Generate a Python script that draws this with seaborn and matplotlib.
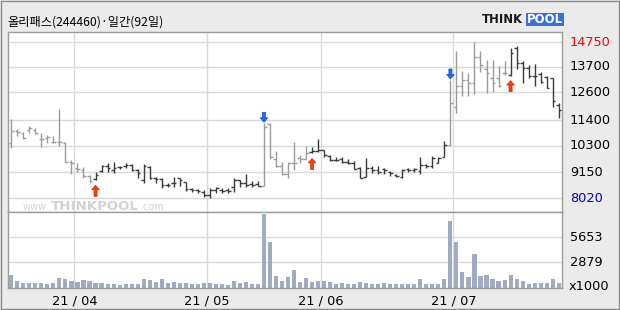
import numpy as np
import pandas as pd
import matplotlib
matplotlib.use("Agg")
import matplotlib.pyplot as plt
import matplotlib.transforms as mtrans
from matplotlib.patches import Rectangle
import seaborn as sns

# ---------------- data ----------------
title = "올리패스(244460)·일간(92일)"
month_labels = ["21/04", "21/05", "21/06", "21/07"]
days_per_month = [11, 22, 19, 22, 18]          # Mar(part), Apr, May, Jun, Jul
price_ticks = [14750, 13700, 12600, 11400, 10300, 9150, 8020]
vol_ticks = [5653, 2879]

opens = [10400, 10930, 10830, 10970, 10970, 10600, 10610, 10460, 10460, 10420,
         9600, 9320, 9250, 8990, 8870, 9200, 9430, 9250, 9380, 9420,
         9460, 9250, 8810, 9390, 8880, 8840, 8600, 8670, 8880, 8720,
         8410, 8380, 8300, 8170, 8380, 8380, 8380, 8500, 8810, 8670,
         8640, 8640, 8560, 11230, 9700, 9400, 9060, 9560, 9750, 9700,
         10040, 10060, 10100, 9860, 9690, 9700, 9610, 9530, 9330, 8960,
         9330, 9250, 9300, 9170, 9030, 8960, 9300, 9260, 9200, 9460,
         9400, 9560, 9820, 10330, 11950, 12866, 13125, 12981, 14130, 13600,
         13200, 13225, 13412, 13340, 14520, 13843, 13657, 13297, 13400, 13269,
         13197, 12047]
highs = [11440, 11000, 10900, 11140, 11040, 10830, 10750, 10720, 11880, 10440,
         9680, 9530, 9390, 9030, 9170, 9470, 9530, 9570, 9420, 9530,
         9490, 9270, 9500, 9420, 8960, 8890, 8700, 8930, 8900, 8740,
         8450, 8420, 8380, 8450, 8500, 8450, 8450, 8890, 8810, 9070,
         8790, 8790, 11260, 11260, 10080, 9600, 9600, 10440, 9890, 10280,
         10250, 10570, 10110, 9890, 9790, 9790, 9700, 9630, 9390, 9780,
         9430, 9430, 9340, 9200, 9060, 9270, 9340, 9320, 9820, 9490,
         9850, 9820, 10500, 13125, 14375, 13513, 13440, 14750, 14375, 13987,
         13987, 13728, 13944, 14490, 14590, 13944, 13771, 13814, 13480, 13297,
         13197, 12119]
lows = [10180, 10720, 10580, 10830, 10780, 10250, 10400, 10400, 10300, 9600,
        9060, 9170, 8890, 8670, 8800, 9170, 9170, 9130, 9270, 9320,
        9200, 8890, 8700, 8840, 8670, 8460, 8500, 8500, 8560, 8360,
        8310, 8270, 8100, 8020, 8240, 8270, 8270, 8310, 8500, 8500,
        8500, 8560, 8560, 9740, 9390, 9030, 8890, 9250, 9530, 9700,
        9960, 10040, 9820, 9630, 9630, 9530, 9500, 9290, 8890, 8960,
        9100, 9070, 9060, 9000, 8960, 8920, 9140, 9140, 9060, 9320,
        9350, 9530, 9820, 10320, 11690, 12435, 12435, 12521, 13484, 12550,
        12593, 12808, 13340, 13311, 13584, 12981, 13196, 12880, 13010, 12765,
        11975, 11500]
closes = [10930, 10900, 10610, 11040, 10830, 10600, 10680, 10460, 10460, 9600,
          9530, 9290, 8990, 8790, 9050, 9440, 9320, 9350, 9380, 9460,
          9250, 9100, 9440, 8890, 8860, 8600, 8600, 8700, 8810, 8420,
          8380, 8350, 8170, 8380, 8450, 8360, 8360, 8830, 8680, 8600,
          8600, 8560, 11100, 9800, 9420, 9060, 9560, 9560, 9700, 10000,
          10060, 10110, 9880, 9680, 9690, 9610, 9530, 9290, 8920, 9330,
          9250, 9180, 9250, 9100, 8990, 9250, 9250, 9290, 9460, 9400,
          9750, 9780, 10330, 12120, 12866, 13125, 12981, 14130, 13770, 13412,
          12981, 12866, 13412, 14274, 13843, 13657, 13297, 13297, 13053, 12794,
          12234, 11832]
volume = [1497, 727, 543, 543, 543, 543, 470, 543, 1057, 947,
          727, 653, 837, 727, 543, 543, 470, 400, 320, 400,
          400, 400, 947, 873, 653, 947, 580, 617, 543, 543,
          470, 470, 543, 500, 470, 400, 320, 727, 580, 653,
          400, 400, 8214, 5057, 1277, 727, 1167, 2048, 617, 1057,
          653, 727, 727, 617, 433, 507, 400, 400, 617, 507,
          400, 400, 507, 400, 400, 400, 400, 400, 947, 400,
          400, 400, 947, 7443, 5057, 1755, 1167, 3810, 1277, 1497,
          947, 763, 837, 1497, 947, 727, 400, 507, 507, 507,
          947, 507]
buy_signals = [14, 50, 83]
sell_signals = [42, 73]
dark_phases = [(14, 41), (50, 72), (83, 91)]

# ---------------- style ----------------
sns.set_theme(style="white")
plt.rcParams["font.family"] = ["Noto Sans CJK KR", "DejaVu Sans"]
NARROW = ["Liberation Sans Narrow", "DejaVu Sans"]

W, H = 620, 310
fig = plt.figure(figsize=(W / 100, H / 100), dpi=100, facecolor="#ebebeb")

def fx(px):
    return px / W

def fy(py):
    return 1 - py / H

left_px, right_px = 8, 562
axp = fig.add_axes([fx(left_px), fy(212), fx(right_px - left_px), (212 - 32) / H])
axv = fig.add_axes([fx(left_px), fy(288), fx(right_px - left_px), (288 - 212) / H])

n = len(opens)
idx = np.arange(n)
o, h, l, c = map(np.asarray, (opens, highs, lows, closes))
dark = np.zeros(n, dtype=bool)
for a, b in dark_phases:
    dark[a:b + 1] = True
cols = np.where(dark, "#3a3a3a", "#9a9a9a")

grid_c = "#d9d9d9"
spine_c = "#9c9c9c"
month_starts = np.cumsum(days_per_month)[:-1]

for ax in (axp, axv):
    ax.set_facecolor("white")
    for s in ax.spines.values():
        s.set_color(spine_c)
        s.set_linewidth(1.0)
    for m in month_starts:
        ax.axvline(m - 0.5, color=grid_c, lw=1.0, zorder=0)
    ax.set_xlim(-0.55, n - 0.45)
    ax.set_xticks([])
    ax.set_yticks([])

# watermark inside the price pane, under the bars, pieces placed in sequence
renderer = fig.canvas.get_renderer()
wm_parts = [("www.", 7.0, "normal"), ("THINKPOOL", 9.6, "bold"), (".com", 7.0, "normal")]
x_cur = fx(23)
for txt, fs, wt in wm_parts:
    t = axp.text(x_cur, fy(210), txt, transform=fig.transFigure, fontsize=fs,
                 weight=wt, color="#d2d2d2", family=["DejaVu Sans"], ha="left",
                 va="baseline", zorder=0.5, clip_on=False)
    bb = t.get_window_extent(renderer=renderer)
    x_cur = (bb.x1 + 1.5) / W

# price pane
for t in price_ticks:
    axp.axhline(t, color=grid_c, lw=1.0, zorder=0)
axp.vlines(idx, l, h, colors=cols, lw=1.0, zorder=3)
axp.hlines(o, idx - 0.45, idx, colors=cols, lw=1.0, zorder=3)
axp.hlines(c, idx, idx + 0.45, colors=cols, lw=1.0, zorder=3)
axp.set_ylim(7436, 15194)

def draw_arrow(i, up):
    if up:
        tr = mtrans.offset_copy(axp.transData, fig=fig, x=0, y=-5, units="dots")
        axp.annotate("", xy=(i, l[i]), xycoords=tr, xytext=(0, -11),
                     textcoords="offset pixels",
                     arrowprops=dict(facecolor="#f04010", edgecolor="#d03000",
                                     width=2.2, headwidth=5.5, headlength=3.2,
                                     shrink=0, lw=0.5), zorder=5)
    else:
        tr = mtrans.offset_copy(axp.transData, fig=fig, x=0, y=1, units="dots")
        axp.annotate("", xy=(i, h[i]), xycoords=tr, xytext=(0, 10),
                     textcoords="offset pixels",
                     arrowprops=dict(facecolor="#1f6fe0", edgecolor="#1050c0",
                                     width=2.2, headwidth=5.5, headlength=3.2,
                                     shrink=0, lw=0.5), zorder=5)

for i in buy_signals:
    draw_arrow(i, True)
for i in sell_signals:
    draw_arrow(i, False)

# price labels on right
trp = mtrans.blended_transform_factory(fig.transFigure, axp.transData)
for t in price_ticks:
    colr = "#ff0000" if t == max(price_ticks) else ("#0000c0" if t == min(price_ticks) else "black")
    fig.text(fx(570), t, str(t), transform=trp, fontsize=9.3, color=colr,
             family=NARROW, ha="left", va="center")

# volume pane
for t in vol_ticks:
    axv.axhline(t, color=grid_c, lw=1.0, zorder=0)
vdf = pd.DataFrame({"idx": idx, "vol": volume})
sns.barplot(data=vdf, x="idx", y="vol", color="#a1aac3", saturation=1,
            width=0.68, native_scale=True, ax=axv, zorder=2, linewidth=0)
axv.set_xlim(-0.55, n - 0.45)
axv.set_ylim(0, 8430)
axv.set_xlabel("")
axv.set_ylabel("")
axv.set_xticks([])
axv.set_yticks([])

trv = mtrans.blended_transform_factory(fig.transFigure, axv.transData)
for t in vol_ticks:
    fig.text(fx(570), t, str(t), transform=trv, fontsize=9.3, color="black",
             family=NARROW, ha="left", va="center")
fig.text(fx(569), fy(286), "x1000", fontsize=9.3, color="black",
         family=NARROW, ha="left", va="center")

# month labels
trx = mtrans.blended_transform_factory(axv.transData, fig.transFigure)
for m, lab in zip(month_starts, month_labels):
    fig.text(m - 0.5, fy(301), lab.replace("/", " / "), transform=trx,
             fontsize=9.3, family=NARROW, ha="center", va="center", color="black")

# title
fig.text(fx(7), fy(22.5), title, fontsize=8.8, ha="left", va="center", color="black")

# logo
fig.text(fx(482), fy(19.5), "THINK", fontsize=8.4, weight="heavy",
         family=["DejaVu Sans"], color="#1a1a1a", ha="left", va="center")
fig.patches.append(Rectangle((fx(526), fy(26)), fx(38), 12.7 / H,
                             transform=fig.transFigure, facecolor="#3a6fd8",
                             edgecolor="none"))
fig.text(fx(545), fy(19.5), "POOL", fontsize=8.4, weight="heavy",
         family=["DejaVu Sans"], color="white", ha="center", va="center")

# outer frame
fig.patches.append(Rectangle((fx(0.5), fy(308.5)), fx(618.5), 308 / H,
                             transform=fig.transFigure, facecolor="none",
                             edgecolor="#8a8a8a", lw=1.0))

fig.savefig("out.png", dpi=100, facecolor=fig.get_facecolor())
